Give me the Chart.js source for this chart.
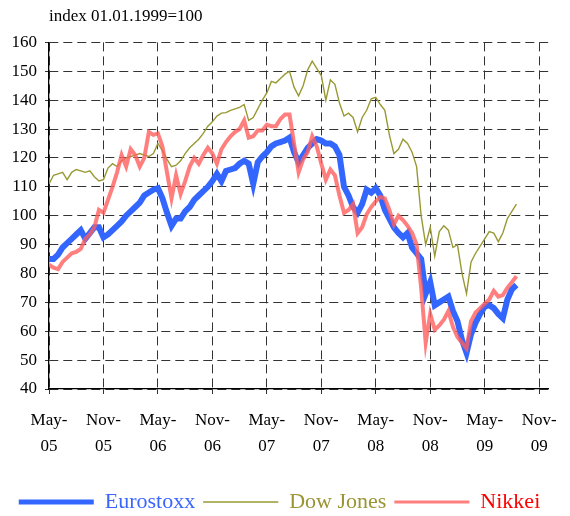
<!DOCTYPE html>
<html>
<head>
<meta charset="utf-8">
<script src="https://cdn.jsdelivr.net/npm/chart.js@4.4.0/dist/chart.umd.min.js"></script>
<style>
  html, body { margin: 0; padding: 0; background: #fff; }
</style>
</head>
<body>
<canvas id="myChart" width="570" height="516"></canvas>
<script>
// months since 1 May 2005, one observation every half month
let months = []
for (let i = 0; i < 104; i++) months.push(i / 2)

let tickMonths = [0, 6, 12, 18, 24, 30, 36, 42, 48, 54]
let tickLabels = ["May-05", "Nov-05", "May-06", "Nov-06", "May-07", "Nov-07", "May-08", "Nov-08", "May-09", "Nov-09"]

let eurostoxx = [85, 85, 86.5, 89, 90.5, 92, 93.5, 95, 92, 94,
    96, 96, 92.5, 93.5, 95, 96.5, 98, 100, 101.5, 103,
    104.5, 107, 108, 109, 109.5, 106, 101, 96.5, 99, 99,
    101.5, 103, 105.5, 107, 108.5, 110, 112, 114.5, 112, 115.5,
    116, 116.5, 118, 119, 118, 111, 118.5, 120.5, 122, 124,
    125, 125.5, 126, 127, 122, 118.5, 121, 123.5, 125, 126.5,
    126, 125, 125, 124, 121, 110, 107, 103, 101, 104,
    109, 108, 109.5, 107, 102, 99, 96, 94, 92.5, 94,
    89, 87, 85, 73, 77, 69, 70, 71, 72, 67,
    63.5, 57, 52.5, 59, 63, 66, 68.5, 69, 68, 66,
    64.5, 71, 74.5, 76]

let dowJones = [111, 114, 114.5, 115, 112.5, 115, 116, 115.5, 115, 115.5,
    113.5, 112, 112.5, 116.5, 118, 117, 119, 120, 120.5, 121,
    121.5, 121, 120.5, 121.5, 125, 122.5, 119.5, 117, 117.5, 119,
    121.5, 123.5, 125, 126.5, 128.5, 131, 132.5, 134.5, 135.5, 135.7,
    136.5, 137, 137.5, 138.5, 133, 134, 137, 140, 142.5, 146.5,
    146, 147.5, 149, 150, 144.5, 141.5, 145, 150.5, 153.5, 151,
    148.5, 140, 147, 145.5, 139, 134.5, 135.5, 134, 129, 134,
    136.5, 140.5, 141, 138.5, 136.5, 128, 121.5, 123, 126.5, 125,
    122, 117, 100, 90, 96, 86, 94.5, 96.5, 95, 89,
    90, 80, 73, 84, 87, 89.5, 92, 94.5, 94, 91,
    94, 99, 101.5, 104]

let nikkei = [83, 82, 81.5, 84, 85.5, 87, 87.5, 88.5, 92, 93.5,
    96, 102, 101, 105.5, 110, 115, 121, 117, 123, 121,
    117, 120, 129, 128, 128.5, 124, 115, 106, 114, 107.5,
    112, 117, 120, 118, 121, 123.5, 121.5, 118, 123, 125.5,
    127.5, 129, 130, 133, 127, 127.5, 129.5, 129.5, 131.5, 131,
    131, 133.5, 135, 135, 125, 115, 119.5, 122, 127.5, 124,
    118, 112.5, 116, 114, 107, 101, 102, 104, 94, 96,
    100.5, 103, 105, 106.5, 106, 102, 97, 100, 98.5, 96.5,
    94, 90, 75, 56, 66, 60.5, 62, 64, 67, 61.5,
    58, 56, 54, 63.5, 66.5, 68, 69.5, 71, 74, 72,
    72.5, 75, 77, 79]

const toPoints = (vals) => vals.map((v, i) => ({ x: months[i], y: v }))

const serif = "'Liberation Serif', 'DejaVu Serif', serif"
const legendWidths = [5, 1, 3]
const legendText = ["#3a66ff", "#9a9432", "#ff0000"]

new Chart("myChart", {
    type: "line",
    data: {
        datasets: [
            {
                label: "Eurostoxx",
                data: toPoints(eurostoxx),
                borderColor: "#3366ff",
                backgroundColor: "#3366ff",
                borderWidth: 6,
                order: 1,
            },
            {
                label: "Dow Jones",
                data: toPoints(dowJones),
                borderColor: "#999933",
                backgroundColor: "#999933",
                borderWidth: 1.4,
                order: 2,
            },
            {
                label: "Nikkei",
                data: toPoints(nikkei),
                borderColor: "rgba(255,95,95,0.8)",
                backgroundColor: "rgba(255,95,95,0.8)",
                borderWidth: 4,
                order: 0,
            },
        ]
    },
    options: {
        responsive: false,
        animation: false,
        elements: { point: { radius: 0 }, line: { tension: 0 } },
        layout: { padding: { left: 0, right: 11, top: 0, bottom: -7 } },
        scales: {
            x: {
                type: "linear",
                min: 0,
                max: 55,
                afterBuildTicks: (s) => { s.ticks = tickMonths.map(v => ({ value: v })) },
                afterFit: (s) => { s.height = 94 },
                ticks: {
                    autoSkip: false,
                    maxRotation: 0,
                    padding: 13,
                    color: "#000",
                    font: { family: serif, size: 17, lineHeight: 1.55 },
                    callback: (v) => {
                        let t = tickLabels[tickMonths.indexOf(v)]
                        return [t.slice(0, 4), t.slice(4)]
                    }
                },
                grid: { color: "#333", lineWidth: 1, tickLength: 5 },
                border: { display: true, color: "#000", width: 1.3, dash: [9, 5] }
            },
            y: {
                min: 40,
                max: 160,
                afterFit: (s) => { s.width = 49 },
                ticks: {
                    stepSize: 10,
                    padding: 8,
                    color: "#000",
                    font: { family: serif, size: 17 }
                },
                grid: { color: "#333", lineWidth: 1, tickLength: 4 },
                border: { display: true, color: "#000", width: 1.3, dash: [9, 5] }
            }
        },
        plugins: {
            tooltip: { enabled: false },
            title: {
                display: true,
                text: "index 01.01.1999=100",
                align: "start",
                fullSize: false,
                color: "#000",
                font: { family: serif, size: 17, weight: "normal" },
                padding: { top: 6, bottom: 16 }
            },
            legend: {
                position: "bottom",
                labels: {
                    boxWidth: 75,
                    boxHeight: 0,
                    padding: 8,
                    font: { family: serif, size: 22 },
                    sort: (a, b) => a.datasetIndex - b.datasetIndex,
                    generateLabels: (chart) => chart.data.datasets.map((ds, i) => ({
                        text: ds.label,
                        fillStyle: ds.borderColor,
                        strokeStyle: ds.borderColor,
                        lineWidth: legendWidths[i],
                        fontColor: legendText[i],
                        hidden: false,
                        datasetIndex: i
                    }))
                }
            }
        }
    }
})
</script>
</body>
</html>
